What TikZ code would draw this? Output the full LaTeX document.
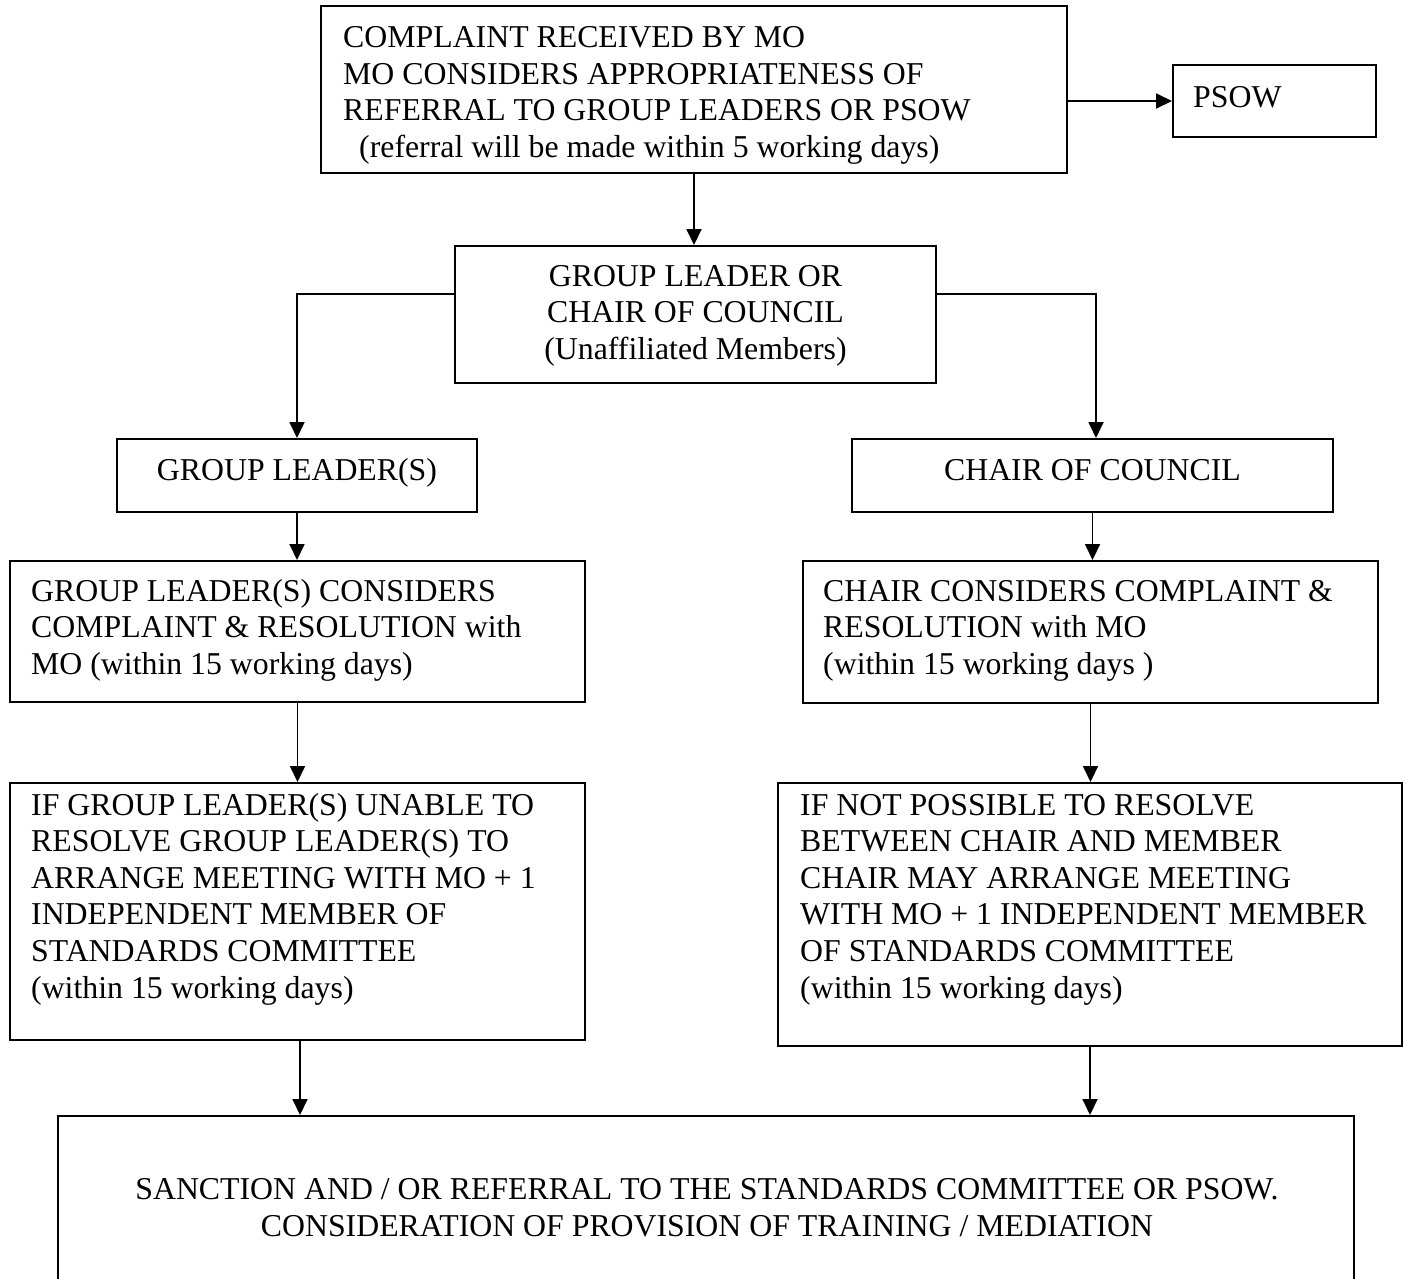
\documentclass[tikz,border=0pt]{standalone}
\usepackage{fontspec}
\setmainfont{Liberation Serif}
\usetikzlibrary{arrows.meta}
\begin{document}
\begin{tikzpicture}[x=1pt,y=-1pt,
  box/.style={draw, line width=2pt, rectangle, inner sep=0pt},
  txt/.style={inner sep=0pt, font=\fontsize{31.8}{36.6}\selectfont},
  ltxt/.style={txt, align=left, anchor=base west},
  ctxt/.style={txt, align=center, anchor=base},
  arr/.style={line width=1.8pt, -{Triangle[length=16pt,width=15pt]}}]
\useasboundingbox (0,0) rectangle (1407,1278);
\fill[white] (0,0) rectangle (1407,1278);
\clip (0,0) rectangle (1407,1278);

% boxes
\node[box, minimum width=746pt, minimum height=167pt] (b1) at (694,89.5) {};
\node[box, minimum width=203pt, minimum height=72pt] (psow) at (1274.5,101) {};
\node[box, minimum width=481pt, minimum height=137pt] (b2) at (695.5,314.5) {};
\node[box, minimum width=360pt, minimum height=73pt] (gl) at (297,475.5) {};
\node[box, minimum width=481pt, minimum height=73pt] (chair) at (1092.5,475.5) {};
\node[box, minimum width=575pt, minimum height=141pt] (glc) at (297.5,631.5) {};
\node[box, minimum width=575pt, minimum height=142pt] (chc) at (1090.5,632) {};
\node[box, minimum width=575pt, minimum height=257pt] (ifgl) at (297.5,911.5) {};
\node[box, minimum width=624pt, minimum height=263pt] (ifn) at (1090,914.5) {};
\node[box, minimum width=1296pt, minimum height=184pt] (fin) at (706,1208) {};

% texts (anchor = baseline of the last line)
\node[ltxt] (t1) at (343,157.3) {COMPLAINT RECEIVED BY MO\\MO CONSIDERS APPROPRIATENESS OF\\REFERRAL TO GROUP LEADERS OR PSOW\\\hspace*{16pt}(referral will be made within 5 working days)};
\node[ltxt] (tpsow) at (1193,107) {PSOW};
\node[ctxt] (t2) at (695.5,359.5) {GROUP LEADER OR\\CHAIR OF COUNCIL\\(Unaffiliated Members)};
\node[ctxt] (tgl) at (297,480) {GROUP LEADER(S)};
\node[ctxt] (tchair) at (1092.5,480) {CHAIR OF COUNCIL};
\node[ltxt] (tglc) at (31,674.5) {GROUP LEADER(S) CONSIDERS\\COMPLAINT \& RESOLUTION with\\MO (within 15 working days)};
\node[ltxt] (tchc) at (823,674.5) {CHAIR CONSIDERS COMPLAINT \&\\RESOLUTION with MO\\(within 15 working days )};
\node[ltxt] (tifgl) at (31,998) {IF GROUP LEADER(S) UNABLE TO\\RESOLVE GROUP LEADER(S) TO\\ARRANGE MEETING WITH MO + 1\\INDEPENDENT MEMBER OF\\STANDARDS COMMITTEE\\(within 15 working days)};
\node[ltxt] (tifn) at (800,998) {IF NOT POSSIBLE TO RESOLVE\\BETWEEN CHAIR AND MEMBER\\CHAIR MAY ARRANGE MEETING\\WITH MO + 1 INDEPENDENT MEMBER\\OF STANDARDS COMMITTEE\\(within 15 working days)};
\node[ctxt] (tfin) at (707,1236) {SANCTION AND / OR REFERRAL TO THE STANDARDS COMMITTEE OR PSOW.\\CONSIDERATION OF PROVISION OF TRAINING / MEDIATION};

% connectors
\draw[arr] (psow.west -| b1.east) -- (psow.west);
\draw[arr] (b1.south) -- (b1.south |- b2.north);
\draw[arr] ([yshift=20.5pt]b2.west) -| (gl.north);
\draw[arr] ([yshift=20.5pt]b2.east) -| ([xshift=3.5pt]chair.north);
\draw[arr] (gl.south) -- (gl.south |- glc.north);
\draw[arr] (chair.south) -- (chair.south |- chc.north);
\draw[arr] (glc.south) -- (glc.south |- ifgl.north);
\draw[arr] (chc.south) -- (chc.south |- ifn.north);
\draw[arr] ([xshift=2.5pt]ifgl.south) -- ([xshift=2.5pt]ifgl.south |- fin.north);
\draw[arr] (ifn.south) -- (ifn.south |- fin.north);
\end{tikzpicture}
\end{document}
